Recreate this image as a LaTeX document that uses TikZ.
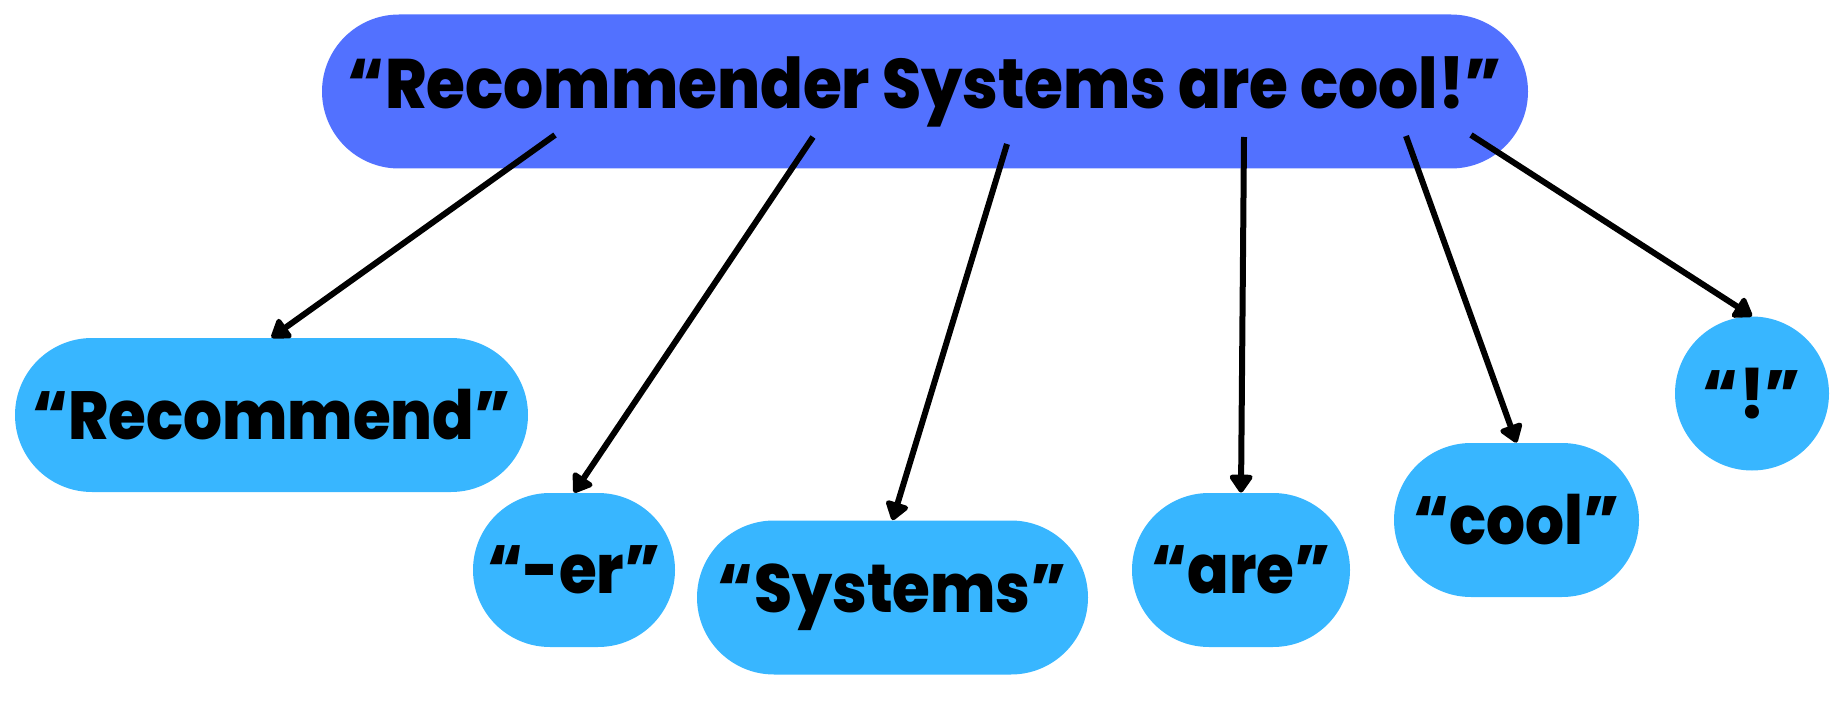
\documentclass[tikz,border=0pt]{standalone}
\usepackage{fontspec}
\setmainfont{Poppins}[FakeStretch=0.9, BoldFont={Poppins ExtraBold}, BoldFeatures={FakeStretch=0.9}]
\usetikzlibrary{arrows.meta}
\definecolor{topblue}{HTML}{5271FF}
\definecolor{leafblue}{HTML}{38B6FF}
\tikzset{
  labelfont/.style={font=\fontsize{34}{40}\selectfont\bfseries, text=black},
  pill/.style={rectangle, rounded corners=38.5pt, minimum height=77pt, inner sep=0pt, labelfont},
  topnode/.style={pill, fill=topblue, font=\fontsize{35}{40}\selectfont\bfseries},
  leaf/.style={pill, fill=leafblue},
  leafcircle/.style={circle, minimum size=77pt, inner sep=0pt, fill=leafblue, labelfont},
  link/.style={line width=3pt, -{Triangle[length=10pt,width=13pt,round]}}
}
\begin{document}
\begin{tikzpicture}[x=0.5pt,y=-0.5pt]
\useasboundingbox (0,0) rectangle (1837,701);
\node[topnode, minimum width=603pt] (top) at (925,91.5) {“Recommender Systems are cool!”};
\node[leaf, minimum width=256.5pt] (rec) at (271.5,415) {“Recommend”};
\node[leaf, minimum width=101pt] (er) at (574,570) {“-er”};
\node[leaf, minimum width=195.5pt] (sys) at (892.5,597.5) {“Systems”};
\node[leaf, minimum width=109pt] (are) at (1241,570) {“are”};
\node[leaf, minimum width=122.5pt] (cool) at (1516.5,520) {“cool”};
\node[leafcircle] (excl) at (1752,393.5) {“!”};
\coordinate (s1) at (555,135);
\coordinate (s2) at (813,137);
\coordinate (s3) at (1007,144);
\coordinate (s4) at (1244,137);
\coordinate (s5) at (1406,136);
\coordinate (s6) at (1471,135);
\draw[link] (s1) -- (rec.north);
\draw[link] (s2) -- (er.north);
\draw[link] (s3) -- (sys.north);
\draw[link] (s4) -- (are.north);
\draw[link] (s5) -- (cool.north);
\draw[link] (s6) -- (excl.north);
\end{tikzpicture}
\end{document}
